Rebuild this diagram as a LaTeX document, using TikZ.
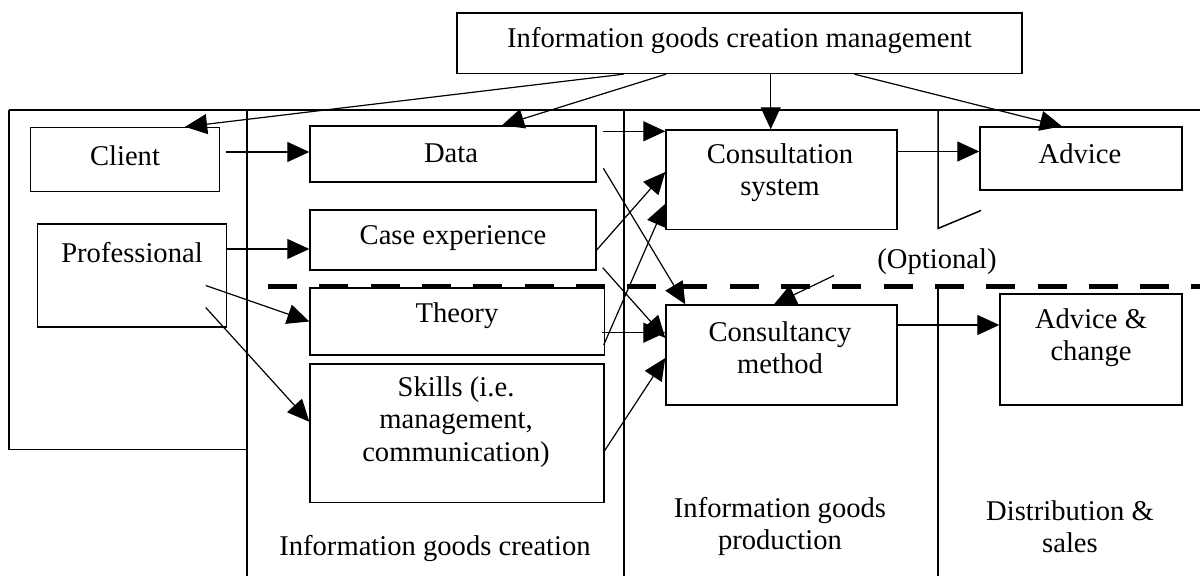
\documentclass[tikz,border=0pt]{standalone}
\usepackage{fontspec}
\setmainfont{Liberation Serif}
\usetikzlibrary{arrows.meta}

\begin{document}
\begin{tikzpicture}[x=0.5pt,y=-0.5pt,
		>={Triangle[length=11pt,width=10pt]},
		every node/.style={font=\fontsize{14.3}{16.2}\selectfont},
		box/.style={draw,line width=0.7pt,inner sep=0pt},
		txt/.style={align=center,inner sep=0pt}]
		% Gitter zeichnen
		%\draw[help lines] (0,0) grid (1200,576);
		\useasboundingbox (0,0) rectangle (1200,576);

		% Rahmen und Spalten zeichnen
		\begin{scope}[line width=0.75pt]
			\draw (9,110) -- (1200,110);
			\draw (9,110) -- (9,449.5) -- (247,449.5);
			\draw (247,110) -- (247,576);
			\draw (624,110) -- (624,576);
			\draw (938,110) -- (938,228.5) -- (981,210.5);
			\draw (938,286.5) -- (938,576);
		\end{scope}
		\draw[line width=2.5pt,dash pattern=on 14.5pt off 11.15pt] (268,286.5) -- (1200,286.5);

		% Kaesten zeichnen
		\node[box,minimum width=282.5pt,minimum height=30.25pt] (mgmt) at (739.5,43.25) {};
		\node[box,minimum width=94.5pt,minimum height=32.15pt] (client) at (125.1,159.65) {};
		\node[box,minimum width=94.5pt,minimum height=51.5pt] (prof) at (132,275.5) {};
		\node[box,minimum width=143pt,minimum height=28pt] (data) at (453,154) {};
		\node[box,minimum width=143pt,minimum height=30pt] (case) at (453,240) {};
		\node[box,minimum width=147.25pt,minimum height=33.5pt] (theory) at (457.25,321.5) {};
		\node[box,minimum width=147pt,minimum height=69.25pt] (skills) at (457,433.25) {};
		\node[box,minimum width=115.5pt,minimum height=49.8pt] (csys) at (781.5,179.8) {};
		\node[box,minimum width=115.5pt,minimum height=50pt] (cmeth) at (781.5,355) {};
		\node[box,minimum width=101pt,minimum height=31.5pt] (advice) at (1081,158.5) {};
		\node[box,minimum width=91pt,minimum height=55.5pt] (adch) at (1091,349.5) {};

		% Beschriftungen eintragen
		\node[txt] (mgmt-Text) at (739.5,40.4) {Information goods creation management};
		\node[txt] (client-Text) at (125,156) {Client};
		\node[txt] (prof-Text) at (132,253) {Professional};
		\node[txt] (data-Text) at (451,153.6) {Data};
		\node[txt] (case-Text) at (453,238) {Case experience};
		\node[txt] (theory-Text) at (457,316) {Theory};
		\node[txt] (skills-Text) at (456,422) {Skills (i.e.\\management,\\communication)};
		\node[txt] (csys-Text) at (780,172.5) {Consultation\\system};
		\node[txt] (cmeth-Text) at (780,348) {Consultancy\\method};
		\node[txt] (advice-Text) at (1080,153.5) {Advice};
		\node[txt] (adch-Text) at (1091,337.5) {Advice \&\\change};
		\node[txt] (opt-Text) at (937,261.6) {(Optional)};
		\node[txt] (creation-Text) at (435,548.5) {Information goods creation};
		\node[txt] (production-Text) at (780,526.5) {Information goods\\production};
		\node[txt] (sales-Text) at (1070,526.5) {Distribution \&\\sales};
		\coordinate (opt-from) at (834,275.5);

		% Pfeile zeichnen
		\begin{scope}[line width=0.6pt]
			\draw[->] ([xshift=-58pt]mgmt.south) -- ([xshift=30pt]client.north);
			\draw[->] ([xshift=-36.75pt]mgmt.south) -- ([xshift=24.5pt]data.north);
			\draw[->] ([xshift=15.6pt]mgmt.south) -- ([xshift=15.6pt]mgmt.south |- csys.north);
			\draw[->] ([xshift=57.5pt]mgmt.south) -- ([xshift=-9.5pt]advice.north);
			\draw[->] ([xshift=3pt,yshift=1pt]client.east |- data.west) -- ([yshift=1pt]data.west);
			\draw[->] ([yshift=-4.5pt]case.west -| prof.east) -- ([yshift=-4.5pt]case.west);
			\draw[->] ([xshift=-10.75pt,yshift=-5pt]prof.east) -- (theory.west);
			\draw[->] ([xshift=-10.75pt,yshift=-16pt]prof.east) -- ([yshift=5.75pt]skills.west);
			\draw[->] ([xshift=3pt,yshift=-3pt]data.north east) -- ([yshift=-3pt]data.north east -| csys.west);
			\draw[->] ([yshift=-5pt]case.east) -- ([yshift=3.9pt]csys.west);
			\draw[->] ([xshift=-0.75pt,yshift=-11.75pt]theory.east) -- ([yshift=-12pt]csys.west);
			\draw[->] ([xshift=3.35pt,yshift=-7.15pt]data.east) -- ([xshift=10pt]cmeth.north west);
			\draw[->] ([xshift=3pt,yshift=1.5pt]case.south east) -- ([yshift=8.5pt]cmeth.west);
			\draw[->] ([xshift=-1.4pt,yshift=11.15pt]cmeth.west -| theory.east) -- ([yshift=11.15pt]cmeth.west);
			\draw[->] ([xshift=-0.5pt,yshift=-9.4pt]skills.east) -- ([yshift=-1.5pt]cmeth.west);
			\draw[->] ([yshift=3.5pt]csys.east |- advice.west) -- ([yshift=3.5pt]advice.west);
			\draw[->] ([yshift=15pt]cmeth.east) -- ([yshift=15pt]cmeth.east -| adch.west);
			\draw[->] (opt-from) -- ([xshift=-3.75pt]cmeth.north);
		\end{scope}
\end{tikzpicture}
\end{document}
